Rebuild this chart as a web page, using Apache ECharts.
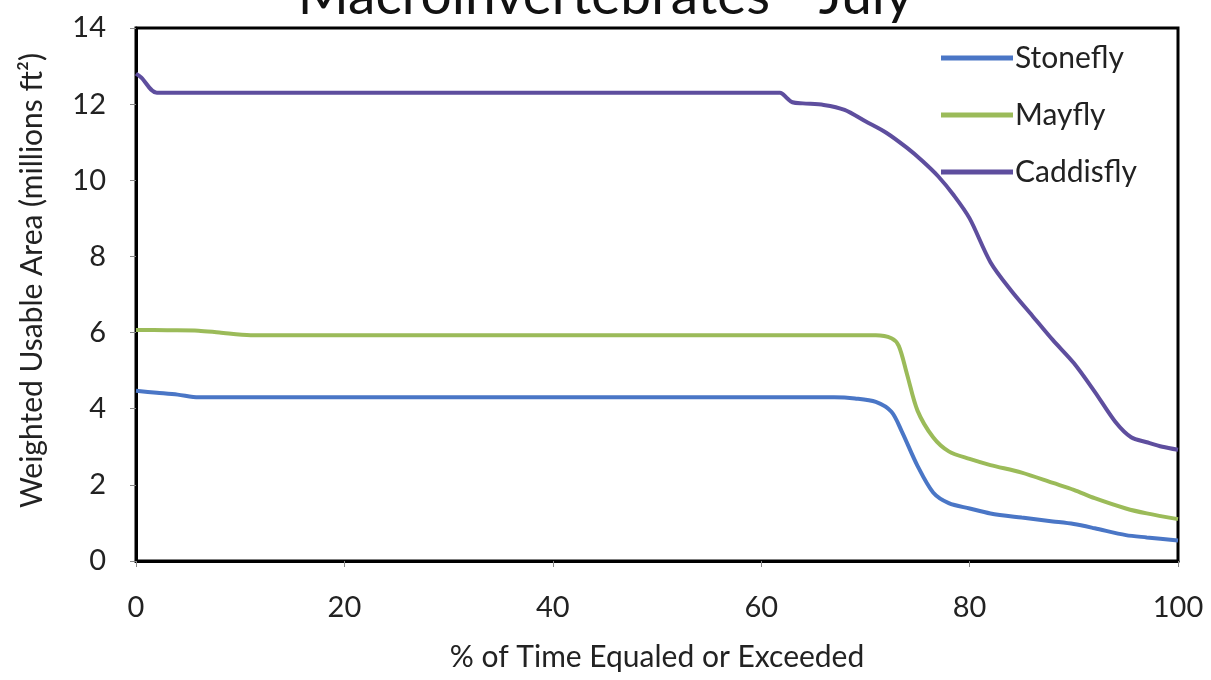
<!DOCTYPE html>
<html><head><meta charset="utf-8">
<script src="https://cdn.jsdelivr.net/npm/echarts@6/dist/echarts.min.js"></script>
<style>html,body{margin:0;padding:0;background:#fff}#c{width:1211px;height:680px}</style>
</head><body><div id="c"></div>
<script>
const titleText = "Macroinvertebrates - July";
const xAxisName = "% of Time Equaled or Exceeded";
const yAxisName = "Weighted Usable Area (millions ft\u00B2)";
const seriesNames = ["Stonefly", "Mayfly", "Caddisfly"];

const stoneflyX = [0, 2, 4, 6, 20, 40, 60, 67, 69, 71, 72.5, 73.5, 75, 76.5, 78, 80, 82, 85, 88, 90, 92, 95, 97, 100];
const stoneflyY = [4.47, 4.42, 4.37, 4.3, 4.3, 4.3, 4.3, 4.3, 4.27, 4.18, 3.92, 3.4, 2.5, 1.8, 1.52, 1.38, 1.25, 1.14, 1.04, 0.97, 0.86, 0.68, 0.62, 0.54];

const mayflyX = [0, 3, 6, 8, 11, 20, 40, 60, 71, 72.5, 73.2, 74, 75, 76.5, 78, 80, 82, 85, 88, 90, 92, 95, 97, 100];
const mayflyY = [6.07, 6.06, 6.05, 6.0, 5.93, 5.93, 5.93, 5.93, 5.93, 5.85, 5.65, 4.9, 3.95, 3.25, 2.88, 2.68, 2.52, 2.32, 2.05, 1.87, 1.65, 1.38, 1.25, 1.1];

const caddisflyX = [0, 0.5, 2, 10, 30, 50, 61.8, 62.5, 63, 64, 66, 68, 70, 72, 74, 75.5, 77, 78.5, 80, 82, 84, 86, 88, 90, 92, 94, 95.5, 97, 98.5, 100];
const caddisflyY = [12.8, 12.7, 12.3, 12.3, 12.3, 12.3, 12.3, 12.15, 12.05, 12.02, 11.98, 11.85, 11.55, 11.25, 10.85, 10.5, 10.1, 9.6, 9.0, 7.85, 7.1, 6.45, 5.8, 5.2, 4.45, 3.65, 3.25, 3.12, 3.0, 2.92];

const xTicks = [0, 20, 40, 60, 80, 100];
const yTicks = [0, 2, 4, 6, 8, 10, 12, 14];
const colors = ["#4A76C6", "#9BBB59", "#5E4E9E"];

function pairs(xs, ys) { return xs.map((x, i) => [x, ys[i]]); }

const chart = echarts.init(document.getElementById('c'), null, {renderer: 'canvas'});
const font = 'Lato, "Open Sans", sans-serif';
chart.setOption({
  backgroundColor: '#fff',
  animation: false,
  title: {
    text: titleText, left: 'center', top: -36,
    textStyle: {fontFamily: font, fontSize: 55, fontWeight: 'normal', color: '#111'}
  },
  legend: {
    orient: 'vertical', left: 936, top: 38, itemGap: 27,
    itemWidth: 72, itemHeight: 5, icon: 'rect',
    textStyle: {fontFamily: font, fontSize: 30, color: '#222', lineHeight: 30, padding: [0,0,0,-3]},
    data: seriesNames
  },
  grid: {left: 136, right: 33, top: 28, bottom: 119, show: true, borderColor: '#000', borderWidth: 3, backgroundColor: '#fff'},
  xAxis: {
    type: 'value', min: 0, max: 100, interval: 20,
    name: xAxisName, nameLocation: 'middle', nameGap: 81,
    nameTextStyle: {fontFamily: font, fontSize: 30, color: '#222'},
    axisLine: {show: true, lineStyle: {color: '#000', width: 3}},
    axisTick: {show: true, length: 6, lineStyle: {color: '#888', width: 1}},
    axisLabel: {fontFamily: font, fontSize: 29, color: '#222', margin: 32,
      formatter: v => xTicks.includes(v) ? String(v) : ''},
    splitLine: {show: false}
  },
  yAxis: {
    type: 'value', min: 0, max: 14, interval: 2,
    name: yAxisName, nameLocation: 'middle', nameGap: 89,
    nameTextStyle: {fontFamily: font, fontSize: 30, color: '#222', padding: [0, 0, 0, 28]},
    axisLine: {show: true, lineStyle: {color: '#000', width: 3}},
    axisTick: {show: true, length: 6, lineStyle: {color: '#888', width: 1}},
    axisLabel: {fontFamily: font, fontSize: 29, color: '#222', margin: 30,
      formatter: v => yTicks.includes(v) ? String(v) : ''},
    splitLine: {show: false}
  },
  series: [
    {name: seriesNames[0], type: 'line', data: pairs(stoneflyX, stoneflyY), smooth: 0.3, showSymbol: false, lineStyle: {width: 4, color: colors[0]}, itemStyle: {color: colors[0]}},
    {name: seriesNames[1], type: 'line', data: pairs(mayflyX, mayflyY), smooth: 0.3, showSymbol: false, lineStyle: {width: 4, color: colors[1]}, itemStyle: {color: colors[1]}},
    {name: seriesNames[2], type: 'line', data: pairs(caddisflyX, caddisflyY), smooth: 0.3, showSymbol: false, lineStyle: {width: 4, color: colors[2]}, itemStyle: {color: colors[2]}}
  ]
});
</script></body></html>
